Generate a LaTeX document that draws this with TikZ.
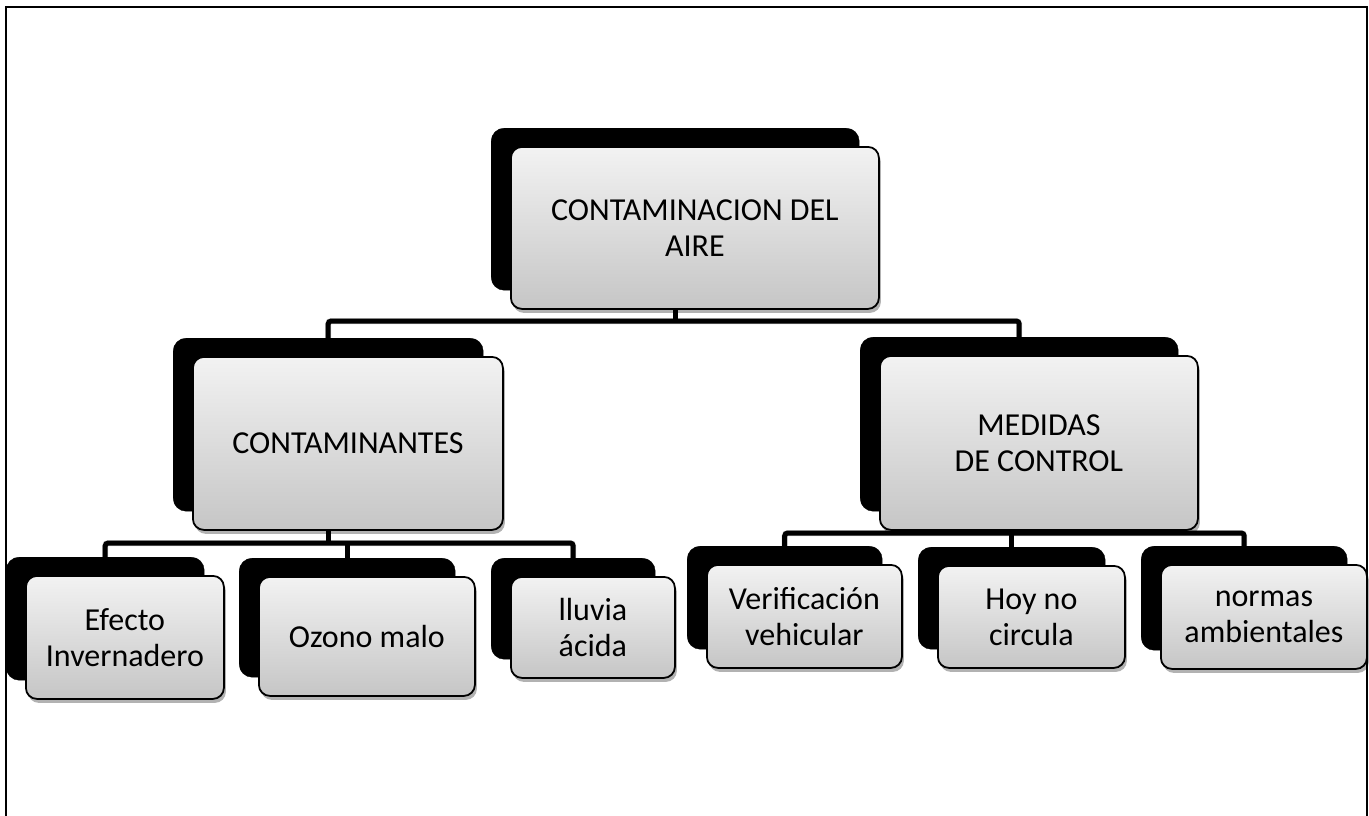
\documentclass[tikz,border=0pt]{standalone}
\usepackage{fontspec}
\setmainfont{Carlito}
\usetikzlibrary{shadows,backgrounds}
\tikzset{
  backbox/.style={draw=black, fill=black, rounded corners=13pt, inner sep=0pt, anchor=north west},
  frontbox/.style={draw=black, line width=1.8pt, rounded corners=11pt, top color=gray!10, bottom color=gray!45,
    align=center, inner sep=0pt, anchor=north west, font=\fontsize{32}{36}\selectfont,
    drop shadow={shadow xshift=2pt, shadow yshift=-4pt, opacity=0.3, fill=black}},
  conn/.style={draw=black, line width=5pt, rounded corners=3pt},
  connshadow/.style={draw=black, opacity=0.18, line width=6pt, rounded corners=3pt},
  frame/.style={draw=black, line width=2pt}
}
\newcommand\mybox[6]{%
  \node[backbox, minimum width={#4pt-#2pt}, minimum height={#5pt-#3pt}] (#1s) at ({#2-19},{#3-18}) {};
  \node[frontbox, minimum width={#4pt-#2pt}, minimum height={#5pt-#3pt}] (#1) at (#2,#3) {#6};
}
\begin{document}
\begin{tikzpicture}[x=1pt,y=-1pt]
\useasboundingbox (0,0) rectangle (1369,816);
\draw[frame] (6,817) -- (6,7) -- (1367,7) -- (1367,817);

\mybox{top}{510}{146}{878}{308}{CONTAMINACION DEL\\AIRE}
\mybox{con}{192}{356}{502}{529}{CONTAMINANTES}
\mybox{med}{879}{355}{1197}{529}{MEDIDAS\\DE CONTROL}
\mybox{efe}{25}{575}{223}{698}{Efecto\\Invernadero}
\mybox{ozo}{258}{576}{474}{695}{Ozono malo}
\mybox{llu}{510}{576}{674}{677}{lluvia\\ácida}
\mybox{ver}{706}{564}{901}{667}{Verificación\\vehicular}
\mybox{hoy}{937}{565}{1124}{667}{Hoy no\\circula}
\mybox{nor}{1160}{564}{1366}{668}{normas\\ambientales}

\coordinate (b1) at (677,321);
\coordinate (b2) at (330,543);
\coordinate (b3) at (1020,533);

\begin{scope}[on background layer]
  \begin{scope}[yshift=-3pt]
    \draw[connshadow] (cons.north) |- (b1) -| (meds.north);
    \draw[connshadow] (efes.north) |- (b2) -| (llus.north);
    \draw[connshadow] (vers.north) |- (b3) -| (nors.north);
  \end{scope}
  \draw[conn] (tops.south) -- (tops.south |- b1);
  \draw[conn] (cons.north) |- (b1) -| (meds.north);
  \draw[conn] (cons.south) -- (cons.south |- b2);
  \draw[conn] (efes.north) |- (b2) -| (llus.north);
  \draw[conn] (ozos.north) -- (ozos.north |- b2);
  \draw[conn] (meds.south) -- (meds.south |- b3);
  \draw[conn] (vers.north) |- (b3) -| (nors.north);
  \draw[conn] (hoys.north) -- (hoys.north |- b3);
\end{scope}
\end{tikzpicture}
\end{document}
